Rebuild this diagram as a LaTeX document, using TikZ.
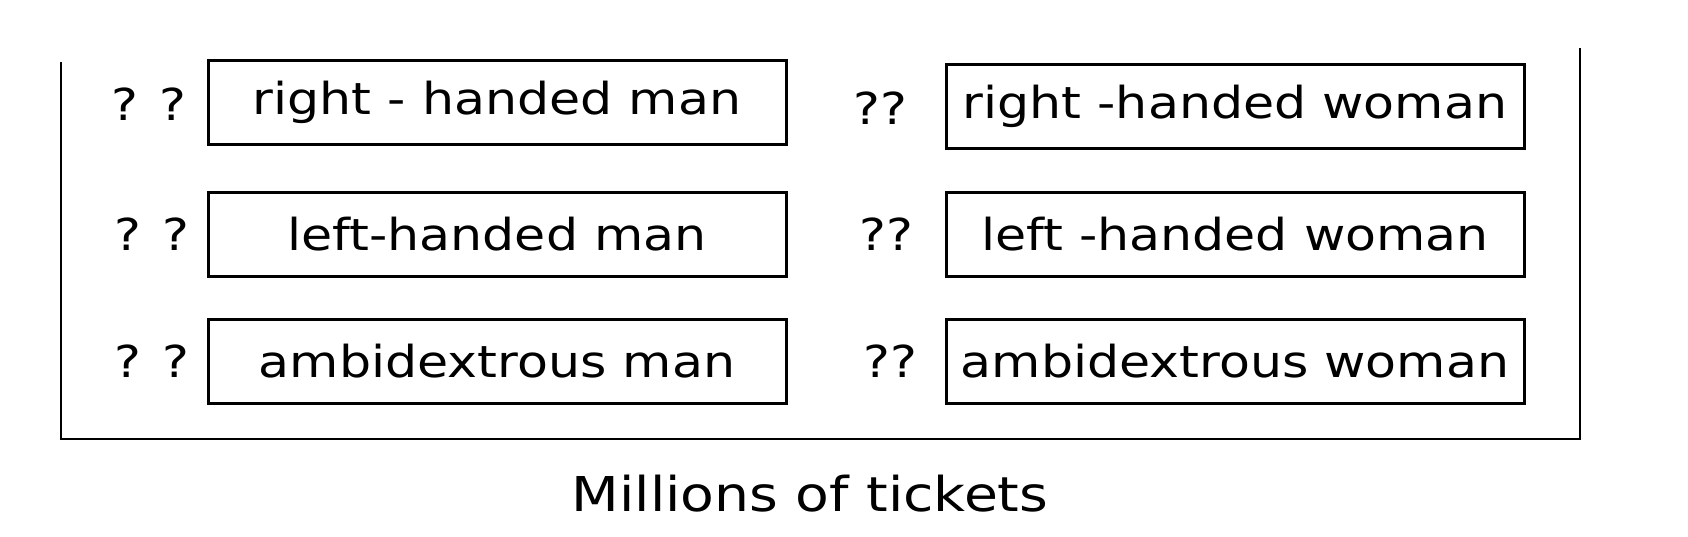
\documentclass[tikz,border=0pt]{standalone}
\usepackage{fontspec}
\setmainfont{DejaVu Sans}[FakeStretch=1.15]
\begin{document}
\begin{tikzpicture}[x=0.5pt,y=-0.5pt,
  catbox/.style={draw,line width=1.5pt,minimum width=289pt,minimum height=42pt,inner sep=0pt,font=\fontsize{22}{26}\selectfont},
  qq/.style={font=\fontsize{22}{26}\selectfont,inner sep=0pt},
  frameline/.style={line width=1pt}]
\useasboundingbox (0,0) rectangle (1688,536);
% left column
\node[catbox] (rm) at (497,102) {right - handed man};
\node[catbox] (lm) at (497,234) {left-handed man};
\node[catbox] (am) at (497,361) {ambidextrous man};
% right column
\node[catbox] (rw) at (1235,106) {right -handed woman};
\node[catbox] (lw) at (1235,234) {left -handed woman};
\node[catbox] (aw) at (1235,361) {ambidextrous woman};
% question marks
\node[qq] (q1) at (149,104) {? ?};
\node[qq] (q2) at (152,234) {? ?};
\node[qq] (q3) at (152,361) {? ?};
\node[qq] (q4) at (880,108) {??};
\node[qq] (q5) at (886,234) {??};
\node[qq] (q6) at (890,361) {??};
% frame
\coordinate (tl) at (61,62);
\coordinate (bl) at (61,439);
\coordinate (br) at (1580,439);
\coordinate (tr) at (1580,48);
\draw[frameline] (tl) -- (bl) -- (br) -- (tr);
% title
\node[font=\fontsize{24}{28}\selectfont,inner sep=0pt] (title) at (810,494) {Millions of tickets};
\end{tikzpicture}
\end{document}
